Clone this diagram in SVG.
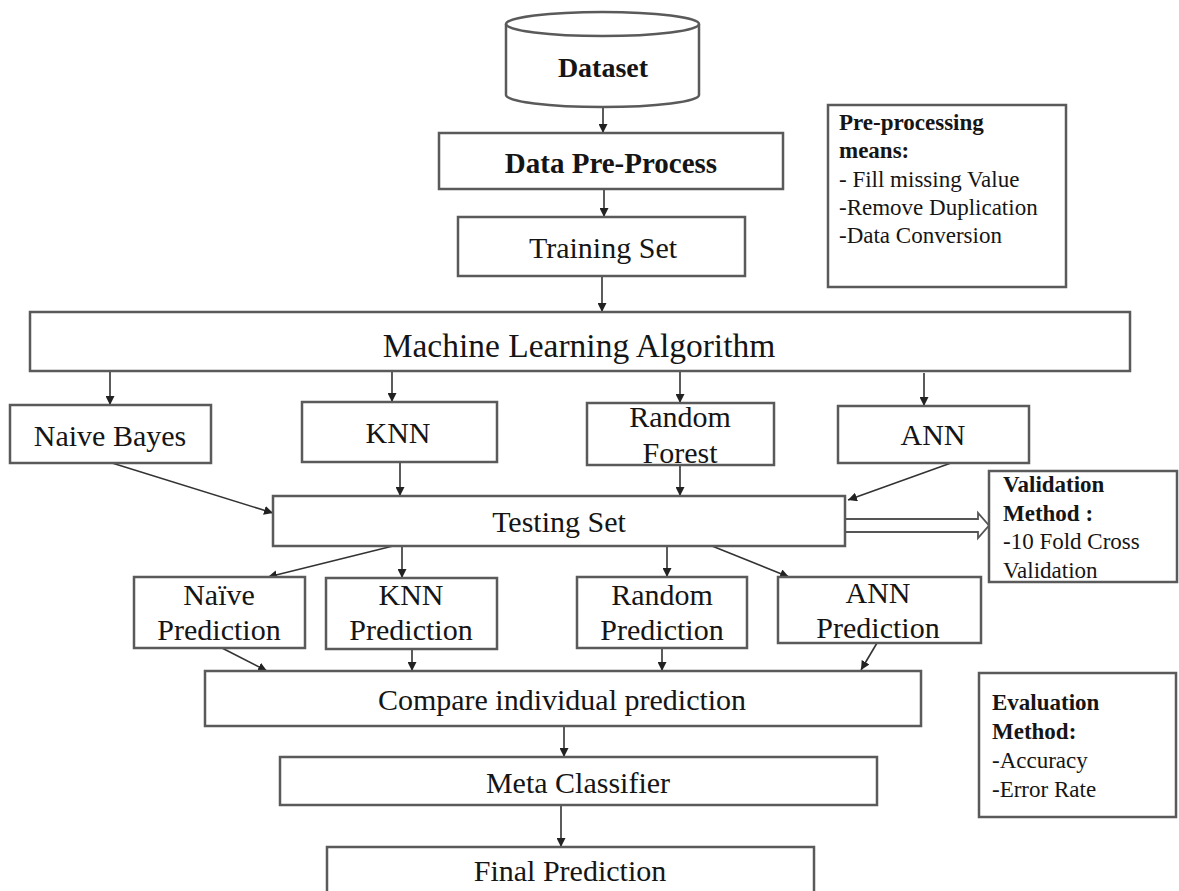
<svg xmlns="http://www.w3.org/2000/svg" width="1179" height="891" viewBox="0 0 1179 891">
<defs>
<style>
.box{fill:#fff;stroke:#5a5a5a;stroke-width:2.5}
.conn{stroke:#333;stroke-width:1.6;fill:none;marker-end:url(#ah)}
.t{font-family:"Liberation Serif","Times New Roman",serif;font-size:30px;fill:#151515;text-anchor:middle}
.tb{font-family:"Liberation Serif","Times New Roman",serif;font-size:28px;font-weight:bold;fill:#151515;text-anchor:middle}
.n{font-family:"Liberation Serif","Times New Roman",serif;font-size:23px;fill:#151515}
.nb{font-weight:bold}
</style>
<marker id="ah" viewBox="0 0 10 10" refX="10" refY="5" markerWidth="9" markerHeight="9" markerUnits="userSpaceOnUse" orient="auto">
<path d="M0,0 L10,5 L0,10 z" fill="#222"/>
</marker>
</defs>
<rect width="1179" height="891" fill="#fff"/>

<g id="connectors">
<line class="conn" x1="603" y1="107" x2="603" y2="133"/>
<line class="conn" x1="604" y1="189" x2="604" y2="217"/>
<line class="conn" x1="602" y1="276" x2="602" y2="312"/>
<line class="conn" x1="110" y1="371" x2="110" y2="405"/>
<line class="conn" x1="392" y1="371" x2="392" y2="402"/>
<line class="conn" x1="680" y1="371" x2="680" y2="403"/>
<line class="conn" x1="924" y1="373" x2="924" y2="406"/>
<line class="conn" x1="112" y1="463" x2="273" y2="513"/>
<line class="conn" x1="400" y1="462" x2="400" y2="496"/>
<line class="conn" x1="680" y1="465" x2="680" y2="496"/>
<line class="conn" x1="951" y1="463" x2="848" y2="500"/>
<line class="conn" x1="393" y1="546" x2="268" y2="577"/>
<line class="conn" x1="402" y1="546" x2="402" y2="578"/>
<line class="conn" x1="667" y1="546" x2="667" y2="577"/>
<line class="conn" x1="712" y1="546" x2="789" y2="577"/>
<line class="conn" x1="222" y1="648" x2="267" y2="671"/>
<line class="conn" x1="412" y1="649" x2="412" y2="671"/>
<line class="conn" x1="662" y1="648" x2="662" y2="671"/>
<line class="conn" x1="877" y1="643" x2="861" y2="670"/>
<line class="conn" x1="564" y1="726" x2="564" y2="757"/>
<line class="conn" x1="561" y1="805" x2="561" y2="847"/>
<polygon points="845,519 978,519 978,513 989,525.5 978,538 978,532 845,532" fill="#fff" stroke="#555" stroke-width="1.8"/>
</g>

<g id="dataset">
<path class="box" d="M506,24 L506,95 A96.5,12 0 0 0 699,95 L699,24 A96.5,12 0 0 0 506,24 Z"/>
<path d="M506,24 A96.5,12 0 0 0 699,24" fill="none" stroke="#5a5a5a" stroke-width="2.5"/>
<text class="tb" x="603" y="77">Dataset</text>
</g>

<g id="preprocess">
<rect class="box" x="439" y="133" width="344" height="56"/>
<text class="tb" x="611" y="173" style="font-size:29px">Data Pre-Process</text>
</g>

<g id="training">
<rect class="box" x="458" y="217" width="287" height="59"/>
<text class="t" x="603" y="258">Training Set</text>
</g>

<g id="prenote">
<rect class="box" x="828" y="105" width="238" height="182"/>
<text class="n nb" x="839" y="130">Pre-processing</text>
<text class="n nb" x="839" y="158">means:</text>
<text class="n" x="839" y="187">- Fill missing Value</text>
<text class="n" x="839" y="215">-Remove Duplication</text>
<text class="n" x="839" y="243">-Data Conversion</text>
</g>

<g id="ml">
<rect class="box" x="30" y="312" width="1100" height="59"/>
<text class="t" x="579" y="357" style="font-size:33.5px">Machine Learning Algorithm</text>
</g>

<g id="naivebayes">
<rect class="box" x="10" y="405" width="201" height="58"/>
<text class="t" x="110" y="446">Naive Bayes</text>
</g>

<g id="knn">
<rect class="box" x="302" y="402" width="195" height="60"/>
<text class="t" x="398" y="443">KNN</text>
</g>

<g id="randomforest">
<rect class="box" x="587" y="403" width="187" height="62"/>
<text class="t" x="680" y="427">Random</text>
<text class="t" x="680" y="463">Forest</text>
</g>

<g id="ann">
<rect class="box" x="838" y="406" width="191" height="57"/>
<text class="t" x="933" y="445">ANN</text>
</g>

<g id="testing">
<rect class="box" x="273" y="496" width="572" height="50"/>
<text class="t" x="559" y="532">Testing Set</text>
</g>

<g id="validation">
<rect class="box" x="989" y="471" width="188" height="111"/>
<text class="n nb" x="1003" y="492">Validation</text>
<text class="n nb" x="1003" y="521">Method :</text>
<text class="n" x="1003" y="549">-10 Fold Cross</text>
<text class="n" x="1003" y="578">Validation</text>
</g>

<g id="naivepred">
<rect class="box" x="134" y="577" width="171" height="71"/>
<text class="t" x="219" y="605">Naïve</text>
<text class="t" x="219" y="640">Prediction</text>
</g>

<g id="knnpred">
<rect class="box" x="326" y="578" width="171" height="71"/>
<text class="t" x="411" y="605">KNN</text>
<text class="t" x="411" y="640">Prediction</text>
</g>

<g id="randompred">
<rect class="box" x="577" y="577" width="170" height="71"/>
<text class="t" x="662" y="605">Random</text>
<text class="t" x="662" y="640">Prediction</text>
</g>

<g id="annpred">
<rect class="box" x="778" y="577" width="203" height="66"/>
<text class="t" x="878" y="603">ANN</text>
<text class="t" x="878" y="638">Prediction</text>
</g>

<g id="compare">
<rect class="box" x="205" y="671" width="716" height="55"/>
<text class="t" x="562" y="710">Compare individual prediction</text>
</g>

<g id="evaluation">
<rect class="box" x="979" y="673" width="197" height="144"/>
<text class="n nb" x="992" y="710">Evaluation</text>
<text class="n nb" x="992" y="739">Method:</text>
<text class="n" x="992" y="768">-Accuracy</text>
<text class="n" x="992" y="797">-Error Rate</text>
</g>

<g id="meta">
<rect class="box" x="280" y="757" width="597" height="48"/>
<text class="t" x="578" y="793">Meta Classifier</text>
</g>

<g id="final">
<rect class="box" x="327" y="847" width="487" height="60"/>
<text class="t" x="570" y="881">Final Prediction</text>
</g>
</svg>
